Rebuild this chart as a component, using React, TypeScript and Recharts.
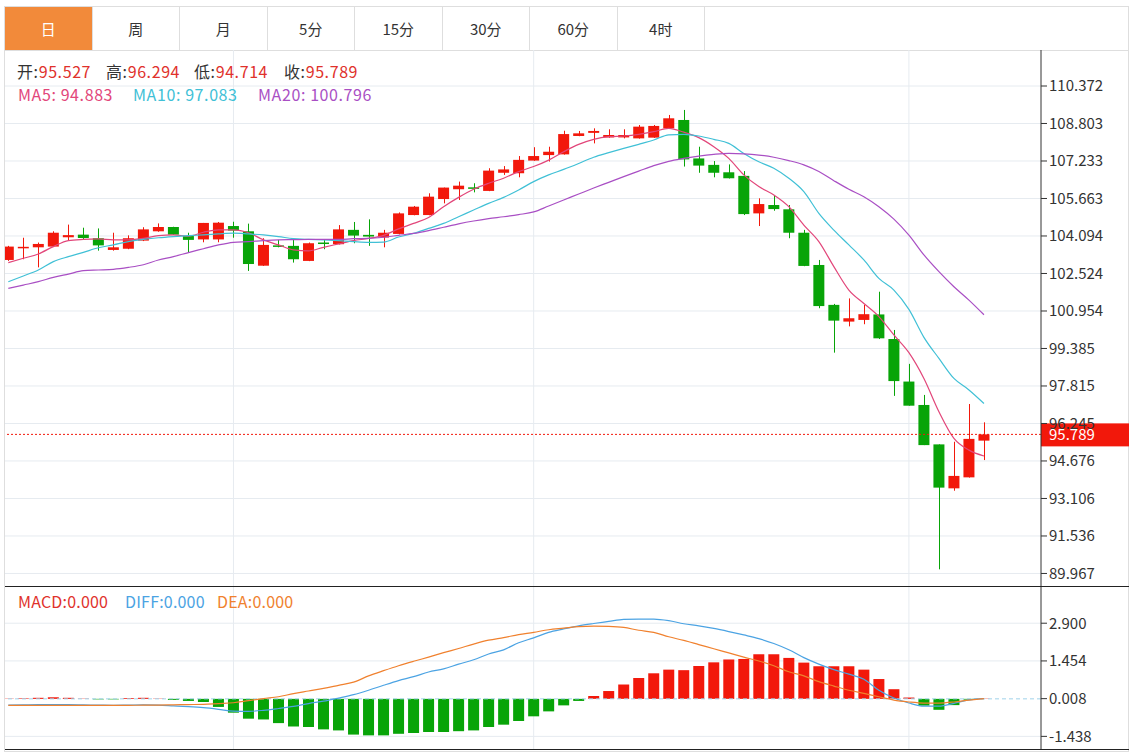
import React from "react";
import {
  ComposedChart,
  Bar,
  Line,
  XAxis,
  YAxis,
  CartesianGrid,
  ReferenceLine,
  Cell,
} from "recharts";

const FONT = '"Microsoft YaHei", "Noto Sans CJK SC", sans-serif';
const RED = "#f2180b";
const GREEN = "#08a408";
const C_MA5 = "#e2467a";
const C_MA10 = "#40c0d6";
const C_MA20 = "#a94fc4";
const C_DIFF = "#4ba3e3";
const C_DEA = "#f0812e";
const GRID = "#e6ebf0";

const TABS = ["日", "周", "月", "5分", "15分", "30分", "60分", "4时"];

// daily candles (oldest first)
const OPEN = [
  103.09, 103.62, 103.62, 103.65, 104.04, 104.15, 104.0, 103.51, 103.56, 103.9,
  104.29, 104.47, 104.09, 103.95, 103.95, 104.51, 104.29, 102.85, 103.7, 103.68,
  103.05, 103.82, 103.75, 104.35, 104.14, 104.03, 104.18, 104.97, 104.97, 105.64,
  106.05, 106.13, 105.98, 106.74, 106.72, 107.25, 107.48, 107.51, 108.28, 108.41,
  108.22, 108.22, 108.18, 108.21, 108.6, 108.95, 107.34, 107.07, 106.76, 106.61,
  105.04, 105.39, 105.21, 104.23, 102.88, 101.21, 100.51, 100.58, 100.81, 99.78,
  98.0, 97.02, 95.37, 93.53, 93.99, 95.527,
];
const HIGH = [
  103.68, 104.02, 103.82, 104.29, 104.57, 104.44, 104.41, 104.23, 104.12, 104.46,
  104.62, 104.48, 104.23, 104.64, 104.68, 104.69, 104.61, 104.0, 103.93, 103.93,
  103.82, 103.93, 104.55, 104.68, 104.79, 104.35, 105.08, 105.35, 105.88, 106.12,
  106.37, 106.3, 106.93, 107.02, 107.44, 107.81, 107.83, 108.5, 108.49, 108.6,
  108.56, 108.56, 108.74, 108.74, 109.16, 109.37, 107.83, 107.23, 107.09, 106.81,
  105.67, 105.81, 105.39, 104.35, 103.09, 101.25, 101.48, 101.21, 101.76, 100.16,
  98.74, 97.44, 95.37, 95.48, 97.06, 96.294,
];
const LOW = [
  103.05, 103.12, 102.78, 103.63, 103.9, 103.93, 103.48, 103.48, 103.54, 103.88,
  104.27, 104.14, 103.42, 103.83, 103.83, 104.02, 102.63, 102.84, 103.62, 102.98,
  103.04, 103.54, 103.74, 103.79, 103.68, 103.62, 104.16, 104.96, 104.96, 105.46,
  105.6, 105.92, 105.97, 106.65, 106.55, 107.24, 107.21, 107.5, 108.27, 107.97,
  108.21, 108.18, 108.17, 108.2, 108.59, 107.0, 106.74, 106.55, 106.5, 104.97,
  104.51, 105.15, 104.0, 102.83, 101.07, 99.21, 100.31, 100.4, 99.78, 97.4,
  96.99, 95.34, 90.14, 93.43, 93.98, 94.714,
];
const CLOSE = [
  103.65, 103.64, 103.76, 104.23, 104.13, 104.01, 103.7, 103.62, 104.0, 104.37,
  104.47, 104.15, 103.93, 104.64, 104.65, 104.32, 102.92, 103.72, 103.65, 103.12,
  103.79, 103.76, 104.37, 104.11, 104.07, 104.23, 105.04, 105.32, 105.74, 106.12,
  106.2, 106.08, 106.83, 106.88, 107.28, 107.44, 107.62, 108.36, 108.39, 108.49,
  108.32, 108.32, 108.67, 108.7, 109.02, 107.3, 107.04, 106.74, 106.51, 105.01,
  105.43, 105.22, 104.23, 102.84, 101.16, 100.55, 100.65, 100.82, 99.81, 98.02,
  96.99, 95.34, 93.56, 94.05, 95.6, 95.789,
];

const MA5 = [
  102.98, 103.16, 103.34, 103.65, 103.9, 103.95, 103.97, 103.93, 103.93, 103.99,
  104.11, 104.14, 104.09, 104.25, 104.35, 104.35, 104.23, 103.93, 103.72, 103.51,
  103.47, 103.62, 103.76, 103.9, 103.99, 104.12, 104.39, 104.62, 104.87, 105.32,
  105.71, 106.05, 106.3, 106.51, 106.79, 107.0, 107.27, 107.62, 107.93, 108.14,
  108.25, 108.28, 108.35, 108.46, 108.6, 108.44, 108.21, 107.83, 107.34, 106.65,
  106.16, 105.81, 105.32, 104.55, 103.86, 102.81, 101.83, 101.27, 100.72, 99.95,
  99.21, 98.13, 96.74, 95.62, 95.13, 94.883,
];
const MA10 = [
  102.18, 102.42, 102.67, 103.02, 103.23, 103.41, 103.6, 103.72, 103.86, 103.95,
  104.02, 104.07, 104.11, 104.14, 104.18, 104.21, 104.18, 104.14, 104.07, 103.98,
  103.95, 103.93, 103.9, 103.86, 103.83, 103.84, 104.05, 104.2, 104.41, 104.62,
  104.9, 105.18, 105.46, 105.71, 106.02, 106.37, 106.65, 106.88, 107.13, 107.39,
  107.58, 107.76, 107.93, 108.11, 108.33, 108.35, 108.28, 108.14, 107.97, 107.55,
  107.2, 106.93, 106.51, 105.95, 105.04, 104.34, 103.72, 103.09, 102.32, 101.83,
  101.02, 99.85, 98.97, 98.13, 97.65, 97.083,
];
const MA20 = [
  101.9, 102.04, 102.18, 102.36, 102.5, 102.64, 102.67, 102.7, 102.78, 102.89,
  103.09, 103.23, 103.4, 103.56, 103.72, 103.83, 103.86, 103.9, 103.93, 103.94,
  103.95, 103.95, 103.95, 103.98, 103.99, 104.04, 104.12, 104.2, 104.32, 104.46,
  104.6, 104.72, 104.82, 104.9, 104.99, 105.1, 105.35, 105.6, 105.85, 106.1,
  106.34, 106.58, 106.81, 107.04, 107.22, 107.34, 107.44, 107.51, 107.55, 107.53,
  107.48, 107.39, 107.25, 107.07, 106.79, 106.41, 106.05, 105.74, 105.32, 104.8,
  104.13, 103.3, 102.6, 101.97, 101.41, 100.796,
];

const MACD_HIST = [
  0.01, 0.02, 0.04, 0.06, 0.04, 0.01, -0.02, -0.02, 0.03, 0.04,
  0.01, -0.04, -0.08, -0.12, -0.31, -0.53, -0.76, -0.79, -0.93, -1.06,
  -1.08, -1.17, -1.21, -1.37, -1.4, -1.4, -1.34, -1.31, -1.27, -1.27,
  -1.24, -1.21, -1.08, -0.99, -0.85, -0.67, -0.48, -0.25, -0.08, 0.11,
  0.3, 0.55, 0.8, 0.98, 1.12, 1.1, 1.26, 1.4, 1.51, 1.53,
  1.71, 1.71, 1.57, 1.39, 1.25, 1.25, 1.25, 1.12, 0.76, 0.37,
  0.05, -0.26, -0.42, -0.24, -0.03, 0.01,
];
const DIFF = [
  -0.24, -0.23, -0.22, -0.22, -0.22, -0.23, -0.24, -0.25, -0.24, -0.23,
  -0.24, -0.27, -0.3, -0.34, -0.4, -0.47, -0.48, -0.44, -0.37, -0.29,
  -0.18, -0.09, 0.03, 0.16, 0.33, 0.52, 0.7, 0.85, 1.03, 1.15,
  1.33, 1.5, 1.72, 1.88, 2.15, 2.34, 2.55, 2.68, 2.8, 2.89,
  2.97, 3.05, 3.06, 3.06, 3.0, 2.88, 2.8, 2.7, 2.58, 2.45,
  2.31, 2.12, 1.88, 1.58, 1.33, 1.12, 0.95, 0.75, 0.33, 0.03,
  -0.16, -0.28, -0.28, -0.17, -0.04, 0.01,
];
const DEA = [
  -0.25, -0.25, -0.25, -0.25, -0.25, -0.25, -0.25, -0.25, -0.25, -0.24,
  -0.24, -0.23, -0.22, -0.21, -0.18, -0.15, -0.07, 0.01, 0.08, 0.2,
  0.3, 0.4, 0.52, 0.64, 0.88, 1.08, 1.27, 1.44, 1.6, 1.77,
  1.93, 2.1, 2.25, 2.35, 2.46, 2.55, 2.65, 2.71, 2.77, 2.79,
  2.78, 2.74, 2.63, 2.55, 2.38, 2.24, 2.08, 1.92, 1.76, 1.6,
  1.45, 1.27, 1.04, 0.88, 0.66, 0.49, 0.33, 0.21, 0.08, -0.05,
  -0.12, -0.16, -0.16, -0.12, -0.05, 0.01,
];

const PRICE_TICKS = [
  110.372, 108.803, 107.233, 105.663, 104.094, 102.524, 100.954, 99.385,
  97.815, 96.245, 94.676, 93.106, 91.536, 89.967,
];
const MACD_TICKS = [2.9, 1.454, 0.008, -1.438];
const MACD_GRID = [2.9, 1.454, -1.438];
// candle index where a new period starts (vertical separators)
const PERIOD_BREAKS = [15, 35, 60];

const rows = OPEN.map((o, i) => ({
  i,
  open: o,
  high: HIGH[i],
  low: LOW[i],
  close: CLOSE[i],
  ma5: MA5[i],
  ma10: MA10[i],
  ma20: MA20[i],
  hist: MACD_HIST[i],
  diff: DIFF[i],
  dea: DEA[i],
}));

const last = rows[rows.length - 1];
const X_DOMAIN = [-0.22, 68.8];

function Candle(props: any) {
  const { x, width, payload } = props;
  let { y, height } = props;
  if (height < 0) {
    y += height;
    height = -height;
  }
  const { open, close, high, low } = payload;
  const color = close >= open ? RED : GREEN;
  const span = high - low || 1;
  const py = (v: number) => y + ((high - v) / span) * height;
  const cx = Math.round(x + width / 2) + 0.5;
  const top = py(Math.max(open, close));
  const bot = py(Math.min(open, close));
  return (
    <g>
      <line x1={cx} x2={cx} y1={y} y2={y + height} stroke={color} strokeWidth={1} />
      <rect x={x} y={top} width={width} height={Math.max(bot - top, 1.5)} fill={color} />
    </g>
  );
}

function PriceTag(props: any) {
  const vb = props.viewBox || {};
  const x = (vb.x || 0) + (vb.width || 0);
  const y = vb.y || 0;
  return (
    <g>
      <rect x={x} y={y - 11} width={88} height={23} fill={RED} />
      <text x={x + 8} y={y + 5.5} fill="#fff" fontSize={15} fontFamily={FONT}>
        {last.close.toFixed(3)}
      </text>
    </g>
  );
}

const tickStyle = { fill: "#333", fontSize: 15, fontFamily: FONT };

export default function App() {
  return (
    <div
      style={{
        position: "absolute",
        left: 0,
        top: 0,
        width: 1140,
        height: 754,
        background: "#fff",
        fontFamily: FONT,
      }}
    >
      {/* outer frame */}
      <div
        style={{
          position: "absolute",
          left: 4,
          top: 6,
          width: 1125,
          height: 746,
          border: "1px solid #dedede",
          boxSizing: "border-box",
        }}
      />

      {/* period tabs */}
      <div style={{ position: "absolute", left: 5, top: 7, height: 43, display: "flex" }}>
        {TABS.map((t, k) => (
          <div
            key={t}
            style={{
              width: 87.5,
              height: 43,
              boxSizing: "border-box",
              borderRight: "1px solid #dedede",
              background: k === 0 ? "#f28a3a" : "#fff",
              color: k === 0 ? "#fff" : "#333",
              fontSize: 15,
              display: "flex",
              alignItems: "center",
              justifyContent: "center",
            }}
          >
            {t}
          </div>
        ))}
      </div>
      <div style={{ position: "absolute", left: 5, top: 50, width: 1124, height: 1, background: "#dedede" }} />

      {/* price chart */}
      <div style={{ position: "absolute", left: 5, top: 50 }}>
        <ComposedChart
          width={1124}
          height={536}
          data={rows}
          margin={{ top: 0, right: 0, bottom: 0, left: 0 }}
        >
          <CartesianGrid
            stroke={GRID}
            horizontalValues={PRICE_TICKS}
            verticalValues={PERIOD_BREAKS}
          />
          <XAxis
            type="number"
            dataKey="i"
            domain={X_DOMAIN}
            allowDataOverflow
            ticks={PERIOD_BREAKS}
            hide
          />
          <YAxis
            orientation="right"
            width={88}
            domain={[89.442, 111.879]}
            allowDataOverflow
            ticks={PRICE_TICKS}
            interval={0}
            tickFormatter={(v: number) => v.toFixed(3)}
            tick={tickStyle}
            tickSize={6}
            tickMargin={2}
            axisLine={{ stroke: "#333" }}
            tickLine={{ stroke: "#333" }}
          />
          <Bar
            dataKey={(d: any) => [d.low, d.high]}
            barSize={11}
            shape={<Candle />}
            isAnimationActive={false}
          />
          <Line type="monotone" dataKey="ma5" stroke={C_MA5} strokeWidth={1.2} dot={false} isAnimationActive={false} />
          <Line type="monotone" dataKey="ma10" stroke={C_MA10} strokeWidth={1.2} dot={false} isAnimationActive={false} />
          <Line type="monotone" dataKey="ma20" stroke={C_MA20} strokeWidth={1.2} dot={false} isAnimationActive={false} />
          <ReferenceLine
            y={last.close}
            stroke={RED}
            strokeDasharray="2 2"
            label={<PriceTag />}
          />
        </ComposedChart>
      </div>

      {/* MACD chart */}
      <div style={{ position: "absolute", left: 5, top: 586 }}>
        <ComposedChart
          width={1124}
          height={164}
          data={rows}
          margin={{ top: 0, right: 0, bottom: 0, left: 0 }}
        >
          <CartesianGrid
            stroke={GRID}
            horizontalValues={MACD_GRID}
            verticalValues={PERIOD_BREAKS}
          />
          <XAxis
            type="number"
            dataKey="i"
            domain={X_DOMAIN}
            allowDataOverflow
            ticks={PERIOD_BREAKS}
            hide
          />
          <YAxis
            orientation="right"
            width={88}
            domain={[-1.961, 4.327]}
            allowDataOverflow
            ticks={MACD_TICKS}
            interval={0}
            tickFormatter={(v: number) => v.toFixed(3)}
            tick={tickStyle}
            tickSize={6}
            tickMargin={2}
            axisLine={{ stroke: "#333" }}
            tickLine={{ stroke: "#333" }}
          />
          <ReferenceLine y={0} stroke="#9fd2ea" strokeDasharray="4 3" />
          <Bar dataKey="hist" barSize={11} isAnimationActive={false}>
            {rows.map((r) => (
              <Cell key={r.i} fill={r.hist >= 0 ? RED : GREEN} />
            ))}
          </Bar>
          <Line type="monotone" dataKey="diff" stroke={C_DIFF} strokeWidth={1.2} dot={false} isAnimationActive={false} />
          <Line type="monotone" dataKey="dea" stroke={C_DEA} strokeWidth={1.2} dot={false} isAnimationActive={false} />
        </ComposedChart>
      </div>

      {/* panel separators */}
      <div style={{ position: "absolute", left: 5, top: 586, width: 1124, height: 1, background: "#222" }} />
      <div style={{ position: "absolute", left: 5, top: 749, width: 1124, height: 1, background: "#222" }} />

      {/* price legend */}
      <div style={{ position: "absolute", top: 60, left: 0, fontSize: 16, lineHeight: "22px", letterSpacing: 0.6 }}>
        {[
          ["开:", last.open, 17],
          ["高:", last.high, 106],
          ["低:", last.low, 194],
          ["收:", last.close, 284],
        ].map(([k, v, left]) => (
          <span key={k as string} style={{ position: "absolute", left: left as number, whiteSpace: "nowrap" }}>
            <span style={{ color: "#333" }}>{k as string}</span>
            <span style={{ color: "#e0312b" }}>{(v as number).toFixed(3)}</span>
          </span>
        ))}
      </div>
      <div style={{ position: "absolute", top: 83, left: 0, fontSize: 16, lineHeight: "22px", letterSpacing: 0.6 }}>
        <span style={{ position: "absolute", left: 18, color: C_MA5, whiteSpace: "nowrap" }}>
          MA5: {last.ma5.toFixed(3)}
        </span>
        <span style={{ position: "absolute", left: 133, color: C_MA10, whiteSpace: "nowrap" }}>
          MA10: {last.ma10.toFixed(3)}
        </span>
        <span style={{ position: "absolute", left: 258, color: C_MA20, whiteSpace: "nowrap" }}>
          MA20: {last.ma20.toFixed(3)}
        </span>
      </div>

      {/* MACD legend */}
      <div style={{ position: "absolute", top: 590, left: 0, fontSize: 16, lineHeight: "22px", letterSpacing: 0.2 }}>
        <span style={{ position: "absolute", left: 18, color: "#e0312b", whiteSpace: "nowrap" }}>MACD:0.000</span>
        <span style={{ position: "absolute", left: 125, color: C_DIFF, whiteSpace: "nowrap" }}>DIFF:0.000</span>
        <span style={{ position: "absolute", left: 217, color: C_DEA, whiteSpace: "nowrap" }}>DEA:0.000</span>
      </div>
    </div>
  );
}
